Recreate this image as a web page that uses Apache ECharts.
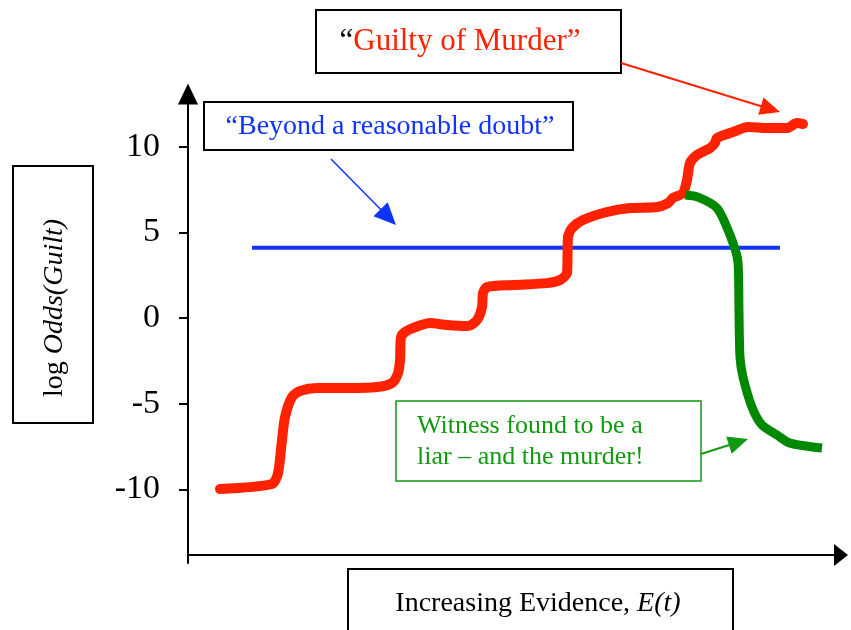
<!DOCTYPE html>
<html>
<head>
<meta charset="utf-8">
<script src="https://cdn.jsdelivr.net/npm/echarts@6/dist/echarts.min.js"></script>
<style>
  html, body { margin: 0; padding: 0; background: #fff; }
  #chart { width: 851px; height: 630px; }
</style>
</head>
<body>
<div id="chart"></div>
<script>
// evidence (arbitrary units along the axis) and log odds of guilt
var redX = [32, 84, 90, 94, 97, 104, 112, 129, 162, 189, 204, 210, 212, 213, 217, 225, 242, 259, 280, 289, 294, 295, 299, 325, 359, 372, 379, 379.5, 380, 384, 395, 419, 442, 469, 480, 485, 495, 499, 502, 509, 522, 527, 529, 545, 560, 579, 599, 609, 615];
var redY = [-9.98, -9.69, -9.05, -7.12, -5.78, -4.61, -4.26, -4.09, -4.09, -4.03, -3.79, -3.21, -2.45, -1.11, -0.82, -0.58, -0.29, -0.41, -0.47, -0.12, 0.64, 1.46, 1.81, 1.93, 2.04, 2.22, 2.63, 3.56, 4.73, 5.25, 5.72, 6.19, 6.42, 6.48, 6.71, 7.01, 7.30, 8.06, 9.05, 9.52, 9.92, 10.22, 10.51, 10.86, 11.15, 11.09, 11.09, 11.38, 11.33];

var greenX = [497, 510, 529, 542, 550, 551, 552, 555, 564, 574, 589, 602, 634];
var greenY = [7.18, 7.06, 6.42, 4.85, 3.27, 0.29, -2.28, -3.44, -5.20, -6.25, -6.83, -7.30, -7.59];

var doubtX = [64, 592];
var doubtY = [4.1, 4.1];

var yTicks = [-10, -5, 0, 5, 10];

function zip(xs, ys) {
  return xs.map(function (x, i) { return [x, ys[i]]; });
}

var serif = '"Liberation Serif", "Times New Roman", serif';

// callout arrow: line + filled head
function arrow(x1, y1, x2, y2, color, w, len, half) {
  var dx = x2 - x1, dy = y2 - y1;
  var d = Math.sqrt(dx * dx + dy * dy);
  var ux = dx / d, uy = dy / d;
  var bx = x2 - ux * len, by = y2 - uy * len;
  return [
    { type: 'line', shape: { x1: x1, y1: y1, x2: bx + ux * 2, y2: by + uy * 2 },
      style: { stroke: color, lineWidth: w } },
    { type: 'polygon',
      shape: { points: [[x2, y2], [bx - uy * half, by + ux * half], [bx + uy * half, by - ux * half]] },
      style: { fill: color } }
  ];
}

function box(x, y, w, h, color, lw) {
  return { type: 'rect', shape: { x: x, y: y, width: w, height: h },
    style: { fill: '#fff', stroke: color, lineWidth: lw } };
}

var graphics = [
  box(316, 10, 305, 63, '#000', 2),
  { type: 'text', x: 460, y: 42, style: {
      text: '{k|\u201C}{r|Guilty of Murder\u201D}', align: 'center', verticalAlign: 'middle',
      rich: { k: { fontFamily: serif, fontSize: 31, fill: '#000' },
              r: { fontFamily: serif, fontSize: 31, fill: '#ff2200' } } } },

  box(204, 102, 369, 48, '#000', 2),
  { type: 'text', x: 390, y: 127, style: {
      text: '\u201CBeyond a reasonable doubt\u201D', align: 'center', verticalAlign: 'middle',
      fontFamily: serif, fontSize: 28, fill: '#1133ff' } },

  box(13, 166, 80, 257, '#000', 2),
  { type: 'text', x: 55, y: 308, rotation: Math.PI / 2, style: {
      text: '{n|log }{i|Odds(Guilt)}', align: 'center', verticalAlign: 'middle',
      rich: { n: { fontFamily: serif, fontSize: 28, fill: '#000' },
              i: { fontFamily: serif, fontSize: 28, fontStyle: 'italic', fill: '#000' } } } },

  box(396, 401, 305, 80, '#119911', 1.5),
  { type: 'text', x: 417, y: 442, style: {
      text: 'Witness found to be a\nliar \u2013 and the murder!', align: 'left', verticalAlign: 'middle',
      lineHeight: 31, fontFamily: serif, fontSize: 26, fill: '#119911' } },

  box(348, 569, 385, 90, '#000', 2),
  { type: 'text', x: 538, y: 604, style: {
      text: '{n|Increasing Evidence, }{i|E(t)}', align: 'center', verticalAlign: 'middle',
      rich: { n: { fontFamily: serif, fontSize: 28, fill: '#000' },
              i: { fontFamily: serif, fontSize: 28, fontStyle: 'italic', fill: '#000' } } } }
].concat(
  arrow(621, 63, 780, 112, '#ff2200', 2, 20, 9),
  arrow(331, 159, 396, 225, '#1133ff', 1.5, 22, 10),
  arrow(701, 454, 748, 439, '#119911', 2, 20, 9)
);

var chart = echarts.init(document.getElementById('chart'));
chart.setOption({
  animation: false,
  grid: { left: 188, right: 10, top: 94, bottom: 67, containLabel: false },
  xAxis: {
    type: 'value', min: 0, max: 653, offset: -8,
    axisLine: { show: true, onZero: false, symbol: ['none', 'triangle'], symbolSize: [22, 14],
                lineStyle: { color: '#000', width: 2 } },
    axisTick: { show: false }, axisLabel: { show: false }, splitLine: { show: false }
  },
  yAxis: {
    type: 'value', min: -14.3, max: 13.08,
    axisLine: { show: true, onZero: false, symbol: ['none', 'triangle'], symbolSize: [20, 21],
                lineStyle: { color: '#000', width: 2 } },
    axisTick: { show: true, customValues: yTicks, length: 9, lineStyle: { color: '#000', width: 2 } },
    axisLabel: { customValues: yTicks, margin: 28, color: '#000', fontFamily: serif, fontSize: 34 },
    splitLine: { show: false }
  },
  series: [
    { type: 'line', data: zip(doubtX, doubtY), symbol: 'none',
      lineStyle: { color: '#1133ff', width: 4 } },
    { type: 'line', data: zip(redX, redY), symbol: 'none', smooth: 0.25,
      lineStyle: { color: '#ff2200', width: 10, cap: 'round', join: 'round' } },
    { type: 'line', data: zip(greenX, greenY), symbol: 'none', smooth: 0.25,
      lineStyle: { color: '#008800', width: 9, join: 'round' } }
  ],
  graphic: graphics
});
</script>
</body>
</html>
